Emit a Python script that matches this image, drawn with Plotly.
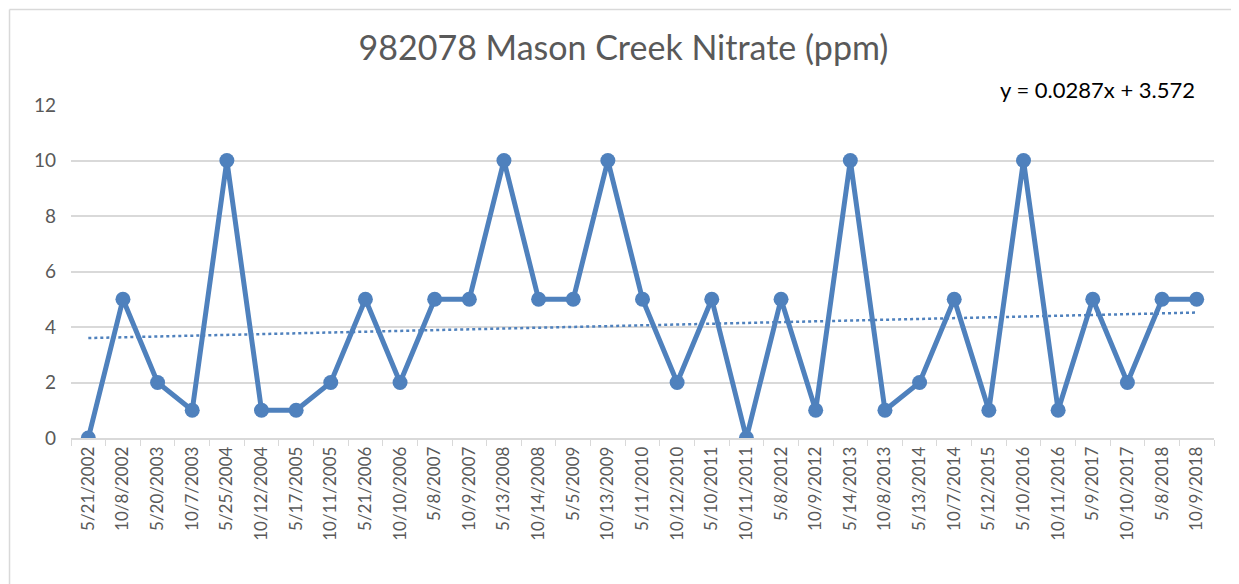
import numpy as np
import plotly.graph_objects as go

datas = [
    "5/21/2002", "10/8/2002", "5/20/2003", "10/7/2003", "5/25/2004", "10/12/2004",
    "5/17/2005", "10/11/2005", "5/21/2006", "10/10/2006", "5/8/2007", "10/9/2007",
    "5/13/2008", "10/14/2008", "5/5/2009", "10/13/2009", "5/11/2010", "10/12/2010",
    "5/10/2011", "10/11/2011", "5/8/2012", "10/9/2012", "5/14/2013", "10/8/2013",
    "5/13/2014", "10/7/2014", "5/12/2015", "5/10/2016", "10/11/2016", "5/9/2017",
    "10/10/2017", "5/8/2018", "10/9/2018",
]
nitrato = [0, 5, 2, 1, 10, 1, 1, 2, 5, 2, 5, 5, 10, 5, 5, 10, 5, 2, 5, 0, 5, 1,
           10, 1, 2, 5, 1, 10, 1, 5, 2, 5, 5]

azul = "#4F81BD"
cinza = "#595959"
grade = "#D9D9D9"
fonte = "Lato"

# linha de tendencia linear (x = 1..n, como no Excel)
xs = np.arange(1, len(nitrato) + 1)
a, b = np.polyfit(xs, nitrato, 1)
tendencia = a * xs + b

fig = go.Figure()

fig.add_trace(go.Scatter(
    x=datas, y=nitrato,
    mode="lines+markers",
    line=dict(color=azul, width=5),
    marker=dict(color=azul, size=15),
    showlegend=False,
))

fig.add_trace(go.Scatter(
    x=datas, y=tendencia,
    mode="lines",
    line=dict(color=azul, width=2.5, dash="dot"),
    showlegend=False,
))

fig.add_annotation(
    x=1.0, y=1.0, xref="paper", yref="paper",
    xanchor="right", yanchor="bottom", yshift=0, xshift=-17,
    text=f"y = {a:.4f}x + {b:.3f}",
    showarrow=False,
    font=dict(family=fonte, size=22, color="black"),
)

# moldura do grafico: so as bordas de cima e da esquerda aparecem
fig.add_shape(
    type="line", xref="paper", yref="paper",
    x0=-0.0538, x1=1.03, y0=1.287, y1=1.287,
    line=dict(color=grade, width=1.5),
)
fig.add_shape(
    type="line", xref="paper", yref="paper",
    x0=-0.0538, x1=-0.0538, y0=-0.5, y1=1.287,
    line=dict(color=grade, width=1.5),
)

fig.update_layout(
    width=1231, height=576,
    margin=dict(l=63, r=25, t=97, b=146),
    paper_bgcolor="white",
    plot_bgcolor="white",
    font=dict(family=fonte, color=cinza),
    title=dict(
        text="982078 Mason Creek Nitrate (ppm)",
        x=0.5, xanchor="center", y=0.93, yanchor="middle",
        font=dict(family=fonte, size=34, color=cinza),
    ),
    xaxis=dict(
        type="category",
        tickangle=-90,
        tickfont=dict(size=17, color=cinza),
        showgrid=False,
        showline=True, linecolor=grade, linewidth=1.5,
        ticks="outside", tickson="boundaries", ticklen=6, tickcolor=grade,
        range=[-0.5, len(datas) - 0.5],
    ),
    yaxis=dict(
        range=[0, 12], dtick=2,
        tickfont=dict(size=19, color=cinza),
        gridcolor=grade, gridwidth=1.5,
        zeroline=False,
        ticklabelstandoff=14,
    ),
)

fig.write_html("out.html")
